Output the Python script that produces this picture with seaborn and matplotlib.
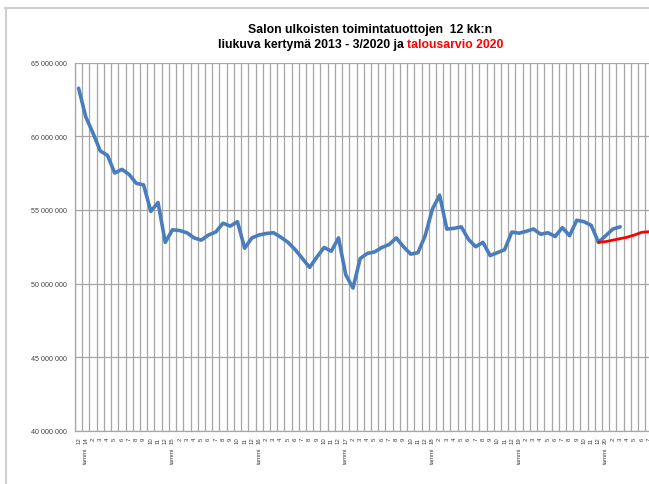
import numpy as np
import pandas as pd
import matplotlib
matplotlib.use("Agg")
import matplotlib.pyplot as plt
import matplotlib.transforms as mtransforms
from matplotlib.lines import Line2D
import seaborn as sns

# ---------------- data (millions of euro) ----------------
actual_values = [63.25, 61.3, 60.2, 59.0, 58.7, 57.5, 57.75, 57.4, 56.8, 56.7,
                 54.9, 55.5, 52.8, 53.65, 53.6, 53.45, 53.1, 52.95, 53.3, 53.5,
                 54.1, 53.9, 54.2, 52.4, 53.1, 53.3, 53.4, 53.45, 53.15, 52.8,
                 52.3, 51.7, 51.1, 51.8, 52.45, 52.2, 53.1, 50.6, 49.7, 51.7,
                 52.05, 52.15, 52.45, 52.65, 53.1, 52.5, 52.0, 52.1, 53.25, 55.05,
                 56.0, 53.7, 53.75, 53.85, 53.0, 52.5, 52.8, 51.9, 52.1, 52.3,
                 53.5, 53.42, 53.55, 53.7, 53.35, 53.45, 53.2, 53.8, 53.25, 54.3,
                 54.2, 53.95, 52.8, 53.25, 53.7, 53.85]
budget_start = 72
budget_values = [52.8, 52.85, 52.95, 53.05, 53.15, 53.3, 53.48, 53.52, 53.55]

first_year, first_month = 2013, 12
n_categories = 85  # 12/2013 ... 12/2020
n_visible_labels = 80  # labels further right fall outside the picture
y_ticks = [40_000_000, 45_000_000, 50_000_000, 55_000_000, 60_000_000, 65_000_000]

title_line1 = "Salon ulkoisten toimintatuottojen  12 kk:n"
title_line2_black = "liukuva kertymä 2013 - 3/2020 ja "
title_line2_red = "talousarvio 2020"
jan_label = "tammi"

# ---------------- build tables ----------------
months = []
years = []
for i in range(n_categories):
    m = (first_month - 1 + i) % 12 + 1
    y = first_year + (first_month - 1 + i) // 12
    months.append(m)
    years.append(y)
tick_labels = [(str(y % 100) if m == 1 else str(m)) if i < n_visible_labels else ""
               for i, (m, y) in enumerate(zip(months, years))]

df_act = pd.DataFrame({"idx": np.arange(len(actual_values)),
                       "value": np.array(actual_values) * 1e6})
df_bud = pd.DataFrame({"idx": np.arange(budget_start, budget_start + len(budget_values)),
                       "value": np.array(budget_values) * 1e6})

# ---------------- figure ----------------
sns.set_style("white")
plt.rcParams["font.family"] = ["Liberation Sans", "DejaVu Sans"]

W, H = 649, 485
fig = plt.figure(figsize=(W / 100, H / 100), dpi=100)
ax_left, ax_top, ax_bottom = 75, 63.5, 432
cat_w = 7.22
ax_right = ax_left + n_categories * cat_w
ax = fig.add_axes([ax_left / W, 1 - ax_bottom / H,
                   (ax_right - ax_left) / W, (ax_bottom - ax_top) / H])

grid_c = "#a6a6a6"
sns.lineplot(data=df_act, x="idx", y="value", ax=ax, color="#4a7dbb",
             linewidth=2.6, solid_joinstyle="round", solid_capstyle="round")
sns.lineplot(data=df_bud, x="idx", y="value", ax=ax, color="#ff0000",
             linewidth=2.0, solid_joinstyle="round", solid_capstyle="round")

ax.set_xlim(-0.5, n_categories - 0.5)
ax.set_ylim(40_000_000, 65_000_000)
ax.set_xlabel("")
ax.set_ylabel("")

# vertical grid at category boundaries
ax.set_xticks(np.arange(-0.5, n_categories, 1.0))
ax.set_xticklabels([])
ax.set_xticks(np.arange(n_categories), minor=True)
ax.set_xticklabels(tick_labels, minor=True, rotation=90, fontsize=4.3,
                   color="#404040")
ax.tick_params(axis="x", which="major", direction="out", length=3.5,
               width=0.8, color=grid_c)
ax.tick_params(axis="x", which="minor", length=0, pad=4)

ax.set_yticks(y_ticks)
ax.set_yticklabels([f"{v:,}".replace(",", " ") for v in y_ticks],
                   fontsize=5.1, color="#404040")
ax.tick_params(axis="y", direction="out", length=4, width=0.8, color=grid_c, pad=2)

ax.grid(True, which="major", color=grid_c, linewidth=0.9)
ax.set_axisbelow(True)
for side in ["top", "right"]:
    ax.spines[side].set_visible(False)
for side in ["left", "bottom"]:
    ax.spines[side].set_color(grid_c)
    ax.spines[side].set_linewidth(0.9)

# "tammi" labels under January categories
trans = mtransforms.blended_transform_factory(ax.transData, ax.transAxes)
for i, m in enumerate(months):
    if m == 1 and i < n_visible_labels:
        ax.text(i, -0.043, jan_label, transform=trans, rotation=90, ha="center",
                va="top", fontsize=4.3, color="#404040")

# title
fs = 8.8
fig.canvas.draw()
renderer = fig.canvas.get_renderer()
fig.text(370 / W, 1 - 30 / H, title_line1, ha="center", va="center",
         fontsize=fs, fontweight="bold", color="black")
t_b = fig.text(0, 1 - 45 / H, title_line2_black, ha="left", va="center",
               fontsize=fs, fontweight="bold", color="black")
t_r = fig.text(0, 1 - 45 / H, title_line2_red, ha="left", va="center",
               fontsize=fs, fontweight="bold", color="#ff0000")
wb = t_b.get_window_extent(renderer).width
wr = t_r.get_window_extent(renderer).width
start = 361 - (wb + wr) / 2
t_b.set_x(start / W)
t_r.set_x((start + wb) / W)

# frame of the chart area
fig.add_artist(Line2D([5 / W, 1], [1 - 8.5 / H, 1 - 8.5 / H],
                      transform=fig.transFigure, color="#cfcfcf", linewidth=1.5))
fig.add_artist(Line2D([6 / W, 6 / W], [0, 1 - 8.5 / H],
                      transform=fig.transFigure, color="#cfcfcf", linewidth=1.5))

fig.savefig("out.png", dpi=100)
